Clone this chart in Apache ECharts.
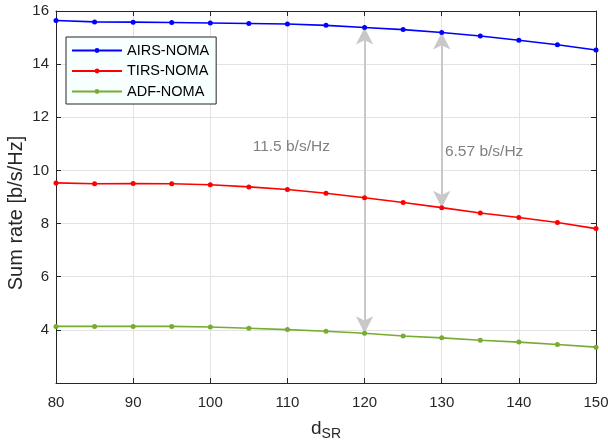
<!DOCTYPE html>
<html>
<head>
<meta charset="utf-8">
<script src="https://cdn.jsdelivr.net/npm/echarts@6/dist/echarts.min.js"></script>
<style>html,body{margin:0;padding:0;background:#fff;}#c{width:608px;height:446px;}</style>
</head>
<body>
<div id="c"></div>
<script>
const dSR = [80, 85, 90, 95, 100, 105, 110, 115, 120, 125, 130, 135, 140, 145, 150];
const airs = [15.64, 15.59, 15.58, 15.57, 15.55, 15.53, 15.51, 15.46, 15.38, 15.30, 15.19, 15.06, 14.90, 14.73, 14.53];
const tirs = [9.53, 9.50, 9.51, 9.50, 9.46, 9.38, 9.28, 9.14, 8.97, 8.79, 8.60, 8.40, 8.23, 8.04, 7.81];
const adf  = [4.13, 4.13, 4.13, 4.13, 4.11, 4.06, 4.01, 3.95, 3.87, 3.77, 3.70, 3.61, 3.54, 3.45, 3.35];
const seriesNames = ['AIRS-NOMA', 'TIRS-NOMA', 'ADF-NOMA'];
const annoText = ['11.5 b/s/Hz', '6.57 b/s/Hz'];
const annoPos = [[110.5, 10.9], [135.5, 10.7]];

const chart = echarts.init(document.getElementById('c'), null, {renderer: 'canvas'});
const font = 'Liberation Sans, Arial, Helvetica, sans-serif';
const axisColor = '#262626';
const gridColor = '#e3e3e3';
const arrowColor = '#c8c8c8';

function pairs(arr) { return dSR.map((x, i) => [x, arr[i]]); }
const i120 = dSR.indexOf(120), i130 = dSR.indexOf(130);

const commonX = {
  type: 'value', min: 80, max: 150, interval: 10,
  axisLine: {show: true, onZero: false, lineStyle: {color: axisColor, width: 1}},
  axisTick: {show: true, inside: true, length: 5, lineStyle: {color: axisColor}},
};
const commonY = {
  type: 'value', min: 2, max: 16, interval: 2,
  axisLine: {show: true, onZero: false, lineStyle: {color: axisColor, width: 1}},
  axisTick: {show: true, inside: true, length: 5, lineStyle: {color: axisColor}},
};

function lineSeries(name, data, color, extra) {
  return Object.assign({
    name: name, type: 'line', data: pairs(data),
    symbol: 'circle', symbolSize: 5, showSymbol: true,
    lineStyle: {color: color, width: 1.6},
    itemStyle: {color: color},
    emphasis: {disabled: true},
    animation: false, z: 3
  }, extra || {});
}

chart.setOption({
  animation: false,
  backgroundColor: '#ffffff',
  textStyle: {fontFamily: font},
  grid: {left: 56, right: 12, top: 11, bottom: 63, containLabel: false, outerBoundsMode: 'none'},
  legend: {
    orient: 'vertical', left: 66, top: 37,
    backgroundColor: '#f8ffff', borderColor: axisColor, borderWidth: 1, borderRadius: 0,
    padding: [5, 7, 4, 5], itemGap: 3.5, itemWidth: 50, itemHeight: 6,
    textStyle: {fontSize: 14.5, color: '#000', fontFamily: font, lineHeight: 17},
    data: seriesNames
  },
  xAxis: [
    Object.assign({}, commonX, {
      position: 'bottom',
      name: '{d|d}{s|SR}', nameLocation: 'middle', nameGap: 33, nameMoveOverlap: false,
      nameTextStyle: {rich: {d: {fontSize: 19, color: '#262626', fontFamily: font}, s: {fontSize: 14, color: '#262626', fontFamily: font, padding: [11, 0, 0, 0]}}},
      axisLabel: {show: true, fontSize: 15, color: '#262626', margin: 12, fontFamily: font},
      splitLine: {show: true, lineStyle: {color: gridColor, width: 1}}
    }),
    Object.assign({}, commonX, {
      position: 'top', axisLabel: {show: false}, splitLine: {show: false}
    })
  ],
  yAxis: [
    Object.assign({}, commonY, {
      position: 'left',
      name: 'Sum rate [b/s/Hz]', nameLocation: 'middle', nameGap: 30, nameMoveOverlap: false,
      nameTextStyle: {fontSize: 20, color: '#262626', fontFamily: font, padding: [0, 32, 0, 0]},
      axisLabel: {show: true, fontSize: 15, color: '#262626', margin: 7, fontFamily: font,
        formatter: v => (v === 2 ? '' : String(v))},
      splitLine: {show: true, lineStyle: {color: gridColor, width: 1}}
    }),
    Object.assign({}, commonY, {
      position: 'right', axisLabel: {show: false}, splitLine: {show: false}
    })
  ],
  series: [
    lineSeries(seriesNames[0], airs, '#0000ff', {
      markLine: {
        silent: true, symbol: ['arrow', 'arrow'], symbolSize: [13, 17], precision: 4,
        lineStyle: {color: arrowColor, width: 2, type: 'solid'},
        label: {show: false}, emphasis: {disabled: true}, z: 1,
        data: [
          [{coord: [120, airs[i120]]}, {coord: [120, adf[i120]]}],
          [{coord: [130, airs[i130]]}, {coord: [130, tirs[i130]]}]
        ]
      },
      markPoint: {
        silent: true, symbol: 'circle', symbolSize: 0,
        label: {show: true, position: 'inside', color: '#808080', fontSize: 15.5, fontFamily: font,
          formatter: p => p.name},
        data: [
          {name: annoText[0], coord: annoPos[0]},
          {name: annoText[1], coord: annoPos[1]}
        ]
      }
    }),
    lineSeries(seriesNames[1], tirs, '#ff0000'),
    lineSeries(seriesNames[2], adf, '#77ac30')
  ]
});
</script>
</body>
</html>
